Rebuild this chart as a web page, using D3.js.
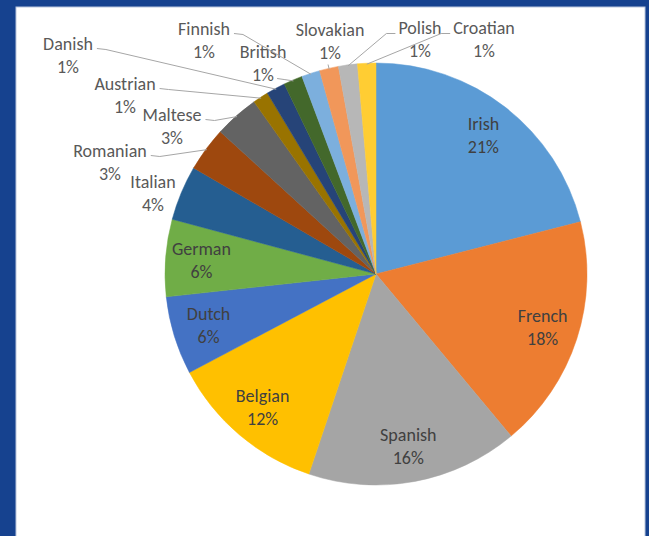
<!DOCTYPE html>
<html>
<head>
<meta charset="utf-8">
<script src="https://cdn.jsdelivr.net/npm/d3@7"></script>
<style>
html,body{margin:0;padding:0;background:#16428f;}
svg{display:block;}
text{font-family:Calibri, Carlito, Lato, sans-serif;}
</style>
</head>
<body>
<svg id="chart" width="649" height="536"></svg>
<script>
// ---- data ----
const categories = ["Irish","French","Spanish","Belgian","Dutch","German","Italian","Romanian","Maltese","Austrian","Danish","British","Finnish","Slovakian","Polish","Croatian"];
const shares     = [21.0, 17.9, 16.2, 12.1, 6.0, 5.9, 4.2, 3.4, 3.4, 1.2, 1.45, 1.45, 1.4, 1.45, 1.45, 1.4];
const colours    = ["#5B9BD5","#ED7D31","#A5A5A5","#FFC000","#4472C4","#70AD47","#255E91","#9E480E","#636363","#997300","#264478","#43682B","#7CAFDD","#F1975A","#B7B7B7","#FFCD33"];
const insideLabels = ["Irish","French","Spanish","Belgian","Dutch","German"];

// ---- layout of the outside labels (offset of label block centre from pie centre) ----
const outsideLayout = {
  Italian:   {at:[-223,-81],  lead:null},
  Romanian:  {at:[-266,-112], lead:"r1"},
  Maltese:   {at:[-204,-148], lead:"r1"},
  Austrian:  {at:[-251,-179], lead:"r1"},
  Danish:    {at:[-308,-219], lead:"r1"},
  Finnish:   {at:[-172,-234], lead:"r1"},
  British:   {at:[-113,-211], lead:"r2"},
  Slovakian: {at:[-46,-233],  lead:"b2"},
  Polish:    {at:[44,-235],   lead:"l1"},
  Croatian:  {at:[108,-235],  lead:"l1"}
};

const W = 649, H = 536;
const svg = d3.select("#chart");
svg.append("rect").attr("width",W).attr("height",H).attr("fill","#16428f");
svg.append("rect").attr("x",16).attr("y",7).attr("width",629).attr("height",H)
   .attr("fill","#ffffff").attr("stroke","#b9c6dd").attr("stroke-width",1);

const cx = 376, cy = 274, R = 211;
const g = svg.append("g").attr("transform",`translate(${cx},${cy})`);

const data = categories.map((c,i)=>({name:c, v:shares[i], colour:colours[i]}));
const total = d3.sum(shares);
const pie = d3.pie().sort(null).value(d=>d.v);
const arcs = pie(data);
const arc = d3.arc().innerRadius(0).outerRadius(R);
const labelArc = d3.arc().innerRadius(R*0.83).outerRadius(R*0.83);
const edgeArc = d3.arc().innerRadius(R-1).outerRadius(R-1);
const pct = d => Math.round(d.data.v/total*100) + "%";

g.selectAll("path.slice").data(arcs).enter().append("path")
  .attr("class","slice")
  .attr("d",arc)
  .attr("fill",d=>d.data.colour)
  .attr("stroke",d=>d.data.colour).attr("stroke-width",0.5);

const FS = 18, LH = 23;

// inside labels
const inG = g.append("g");
arcs.filter(d=>insideLabels.includes(d.data.name)).forEach(d=>{
  const [x,y] = labelArc.centroid(d);
  const t = inG.append("text").attr("x",x).attr("text-anchor","middle")
     .attr("font-size",FS).attr("fill","#404040");
  t.append("tspan").attr("x",x).attr("y",y-LH/2).attr("dominant-baseline","central").text(d.data.name);
  t.append("tspan").attr("x",x).attr("y",y+LH/2).attr("dominant-baseline","central").text(pct(d));
});

// outside labels with leader lines
const outG = g.append("g");
const leadG = g.append("g");
arcs.filter(d=>outsideLayout[d.data.name]).forEach(d=>{
  const L = outsideLayout[d.data.name];
  const [x,y] = L.at;
  const t1 = outG.append("text").attr("x",x).attr("y",y-LH/2).attr("text-anchor","middle")
     .attr("dominant-baseline","central").attr("font-size",FS).attr("fill","#595959").text(d.data.name);
  const t2 = outG.append("text").attr("x",x).attr("y",y+LH/2).attr("text-anchor","middle")
     .attr("dominant-baseline","central").attr("font-size",FS).attr("fill","#595959").text(pct(d));
  if(!L.lead) return;
  const b1 = t1.node().getBBox(), b2 = t2.node().getBBox();
  const end = edgeArc.centroid(d);
  let pts;
  if(L.lead==="r1"){
    const s=[b1.x+b1.width+4, y-LH/2+5];
    pts=[s,[s[0]+9,s[1]+1],end];
  } else if(L.lead==="r2"){
    const s=[b2.x+b2.width+3, y+LH/2+4];
    pts=[s,[s[0]+7,s[1]+1],end];
  } else if(L.lead==="l1"){
    const s=[b1.x-3, y-LH/2+6];
    pts=[s,[s[0]-9,s[1]],end];
  } else if(L.lead==="b2"){
    const s=[b2.x+b2.width/2-2, b2.y+b2.height+1];
    pts=[s,end];
  }
  leadG.append("path").attr("d",d3.line()(pts)).attr("fill","none")
     .attr("stroke","#a6a6a6").attr("stroke-width",1);
});
</script>
</body>
</html>
